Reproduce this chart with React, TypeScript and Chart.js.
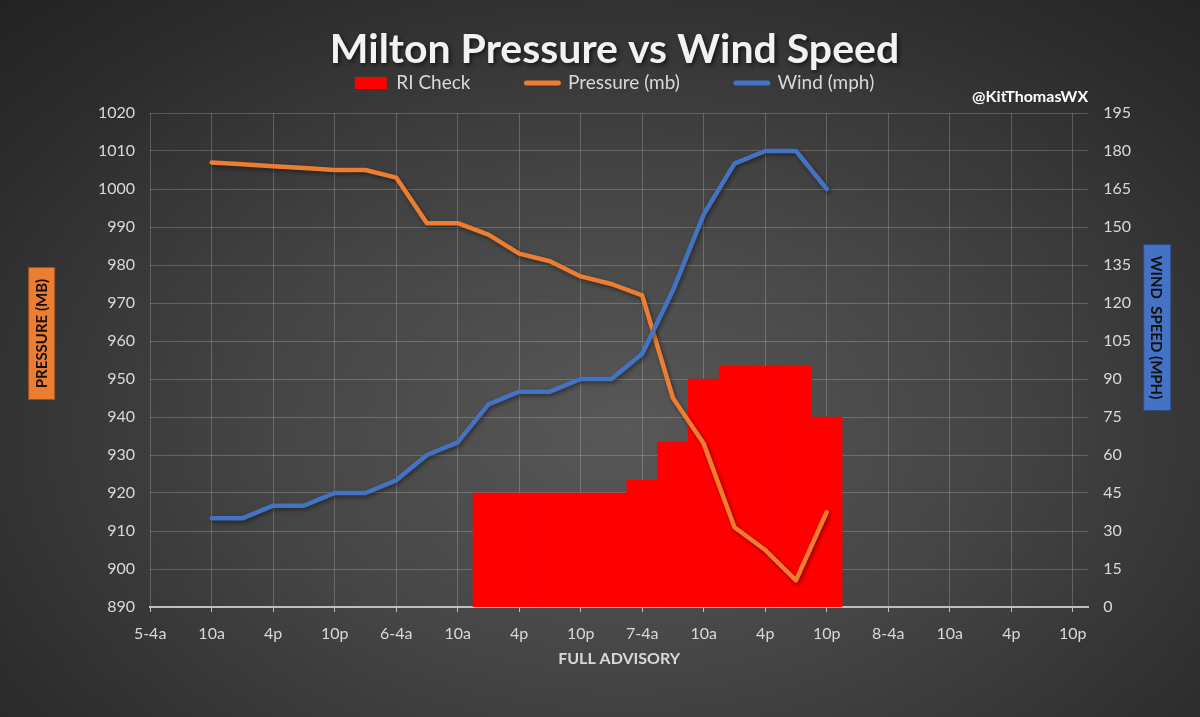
import React, { useEffect, useRef } from 'react';
import { Chart, registerables } from 'chart.js';

Chart.register(...registerables);

// 3-hourly advisory times (index = position on the x axis)
const times = [
  '5-4a', '7a', '10a', '1p', '4p', '7p', '10p', '1a',
  '6-4a', '7a', '10a', '1p', '4p', '7p', '10p', '1a',
  '7-4a', '7a', '10a', '1p', '4p', '7p', '10p', '1a',
  '8-4a', '7a', '10a', '1p', '4p', '7p', '10p',
];

const pressureMb: (number | null)[] = [
  null, null, 1007, 1006.5, 1006, 1005.5, 1005, 1005,
  1003, 991, 991, 988, 983, 981, 977, 975,
  972, 945, 933, 911, 905, 897, 915,
];

const windMph: (number | null)[] = [
  null, null, 35, 35, 40, 40, 45, 45,
  50, 60, 65, 80, 85, 85, 90, 90,
  100, 125, 155, 175, 180, 180, 165,
];

const riCheck: (number | null)[] = [
  null, null, null, null, null, null, null, null,
  null, null, null, 45, 45, 45, 45, 45,
  50, 65, 90, 95, 95, 95, 75,
];

const pressureTicks = { min: 890, max: 1020, step: 10 };
const windTicks = { min: 0, max: 195, step: 15 };

const ORANGE = '#ED7D31';
const BLUE = '#4472C4';
const RED = '#FF0000';
const TEXT = '#d9d9d9';
const GRID = 'rgba(255,255,255,0.2)';

const toPoints = (arr: (number | null)[]) =>
  arr
    .map((v, i) => (v == null ? null : { x: i, y: v }))
    .filter((p) => p !== null) as { x: number; y: number }[];

const lineShadow = {
  id: 'lineShadow',
  beforeDatasetDraw(chart: any, args: any) {
    const ds = chart.data.datasets[args.index];
    if (ds.type === 'line') {
      const ctx = chart.ctx;
      ctx.save();
      ctx.shadowColor = 'rgba(0,0,0,0.45)';
      ctx.shadowBlur = 4;
      ctx.shadowOffsetX = 1.5;
      ctx.shadowOffsetY = 2;
    }
  },
  afterDatasetDraw(chart: any, args: any) {
    const ds = chart.data.datasets[args.index];
    if (ds.type === 'line') chart.ctx.restore();
  },
};

// soft drop shadow behind the chart title
const titleShadow = {
  id: 'titleShadow',
  beforeDraw(chart: any) {
    const block = chart.titleBlock;
    if (!block || block.__shadowed) return;
    const orig = block.draw.bind(block);
    block.draw = (...a: any[]) => {
      const ctx = chart.ctx;
      ctx.save();
      ctx.shadowColor = 'rgba(0,0,0,0.6)';
      ctx.shadowBlur = 4;
      ctx.shadowOffsetX = 2;
      ctx.shadowOffsetY = 2;
      orig(...a);
      ctx.restore();
    };
    block.__shadowed = true;
  },
};

const axisBoxes = {
  id: 'axisBoxes',
  afterDraw(chart: any) {
    const { ctx, chartArea } = chart;
    const drawBox = (
      x: number, y: number, w: number, h: number,
      fill: string, text: string, rot: number
    ) => {
      ctx.save();
      ctx.fillStyle = fill;
      ctx.fillRect(x, y, w, h);
      ctx.strokeStyle = 'rgba(0,0,0,0.35)';
      ctx.lineWidth = 1;
      ctx.strokeRect(x + 0.5, y + 0.5, w - 1, h - 1);
      ctx.translate(x + w / 2, y + h / 2);
      ctx.rotate(rot);
      ctx.fillStyle = '#111';
      ctx.font = 'bold 15px Lato';
      ctx.textAlign = 'center';
      ctx.textBaseline = 'middle';
      ctx.fillText(text, 0, 1);
      ctx.restore();
    };
    drawBox(chartArea.left - 122, chartArea.top + 154, 27, 133, ORANGE, 'PRESSURE (MB)', -Math.PI / 2);
    drawBox(chartArea.right + 55, chartArea.top + 131, 28, 167, BLUE, 'WIND  SPEED (MPH)', Math.PI / 2);
  },
};

export default function App() {
  const canvasRef = useRef<HTMLCanvasElement | null>(null);

  useEffect(() => {
    if (!canvasRef.current) return;
    Chart.defaults.font.family = 'Lato';
    const chart = new Chart(canvasRef.current, {
      type: 'line',
      data: {
        datasets: [
          {
            type: 'bar',
            label: 'RI Check',
            data: toPoints(riCheck),
            backgroundColor: RED,
            borderWidth: 0,
            barPercentage: 1,
            categoryPercentage: 1,
            xAxisID: 'x',
            yAxisID: 'y1',
            order: 2,
          } as any,
          {
            type: 'line',
            label: 'Pressure (mb)',
            data: toPoints(pressureMb),
            borderColor: ORANGE,
            backgroundColor: ORANGE,
            borderWidth: 4.5,
            pointRadius: 0,
            tension: 0,
            borderCapStyle: 'round',
            borderJoinStyle: 'round',
            xAxisID: 'x',
            yAxisID: 'y',
            order: 1,
          },
          {
            type: 'line',
            label: 'Wind (mph)',
            data: toPoints(windMph),
            borderColor: BLUE,
            backgroundColor: BLUE,
            borderWidth: 4.5,
            pointRadius: 0,
            tension: 0,
            borderCapStyle: 'round',
            borderJoinStyle: 'round',
            xAxisID: 'x',
            yAxisID: 'y1',
            order: 0,
          },
        ],
      },
      options: {
        animation: false,
        responsive: true,
        maintainAspectRatio: false,
        layout: { padding: { left: 83, right: 54, top: 0, bottom: 48.4 } },
        plugins: {
          title: {
            display: true,
            text: 'Milton Pressure vs Wind Speed',
            color: '#f2f2f2',
            font: { size: 41, weight: 'bold', family: 'Lato' },
            padding: { top: 25, bottom: -56.7 },
          },
          legend: {
            display: true,
            position: 'top',
            labels: {
              usePointStyle: true,
              pointStyleWidth: 32,
              boxHeight: 12,
              padding: 56,
              color: TEXT,
              font: { size: 19, family: 'Lato' },
              generateLabels: (chart: any) =>
                chart.data.datasets.map((ds: any, i: number) => ({
                  text: ds.label,
                  fillStyle: ds.type === 'bar' ? RED : ds.borderColor,
                  strokeStyle: ds.type === 'bar' ? RED : ds.borderColor,
                  lineWidth: ds.type === 'bar' ? 0 : 5,
                  lineCap: 'round',
                  pointStyle: ds.type === 'bar' ? 'rect' : 'line',
                  fontColor: TEXT,
                  hidden: false,
                  datasetIndex: i,
                })),
            },
          },
          subtitle: {
            display: true,
            text: '@KitThomasWX',
            align: 'end',
            position: 'top',
            fullSize: false,
            weight: 500,
            color: '#ffffff',
            font: { size: 16, weight: 'bold', family: 'Lato' },
            padding: { top: -15.1, bottom: 6.4 },
          } as any,
          tooltip: { enabled: false },
        },
        scales: {
          x: {
            type: 'linear',
            min: 0,
            max: times.length - 0.5,
            offset: false,
            afterBuildTicks: (scale: any) => {
              scale.ticks = times
                .map((_, i) => i)
                .filter((i) => i % 2 === 0)
                .map((v) => ({ value: v }));
            },
            ticks: {
              color: TEXT,
              font: { size: 16, family: 'Lato' },
              padding: 12,
              maxRotation: 0,
              autoSkip: false,
              callback: (v: any) => times[Number(v)] ?? '',
            },
            grid: {
              color: GRID,
              lineWidth: 1,
              drawTicks: true,
              tickLength: 5,
              tickColor: '#bfbfbf',
              offset: false,
            },
            border: { display: true, color: '#bfbfbf', width: 2 },
            title: {
              display: true,
              text: 'FULL ADVISORY',
              color: TEXT,
              font: { size: 16, weight: 'bold', family: 'Lato' },
              padding: { top: -5.8, bottom: 0 },
            },
          },
          y: {
            type: 'linear',
            position: 'left',
            min: pressureTicks.min,
            max: pressureTicks.max,
            ticks: {
              stepSize: pressureTicks.step,
              color: TEXT,
              font: { size: 16, family: 'Lato' },
              padding: 15,
              callback: (v: any) => String(v),
            },
            grid: { color: GRID, lineWidth: 1, drawTicks: false },
            border: { display: false },
          },
          y1: {
            type: 'linear',
            position: 'right',
            min: windTicks.min,
            max: windTicks.max,
            ticks: {
              stepSize: windTicks.step,
              color: TEXT,
              font: { size: 16, family: 'Lato' },
              padding: 15,
              callback: (v: any) => String(v),
            },
            grid: { display: false, drawTicks: false },
            border: { display: false },
          },
        },
      } as any,
      plugins: [lineShadow, titleShadow, axisBoxes],
    });
    return () => chart.destroy();
  }, []);

  return (
    <div
      style={{
        position: 'absolute',
        left: 0,
        top: 0,
        width: 1200,
        height: 717,
        background:
          'radial-gradient(ellipse 75% 85% at 52% 60%, #585858 0%, #454545 40%, #2c2c2c 80%, #222222 100%)',
      }}
    >
      <canvas ref={canvasRef} />
    </div>
  );
}
